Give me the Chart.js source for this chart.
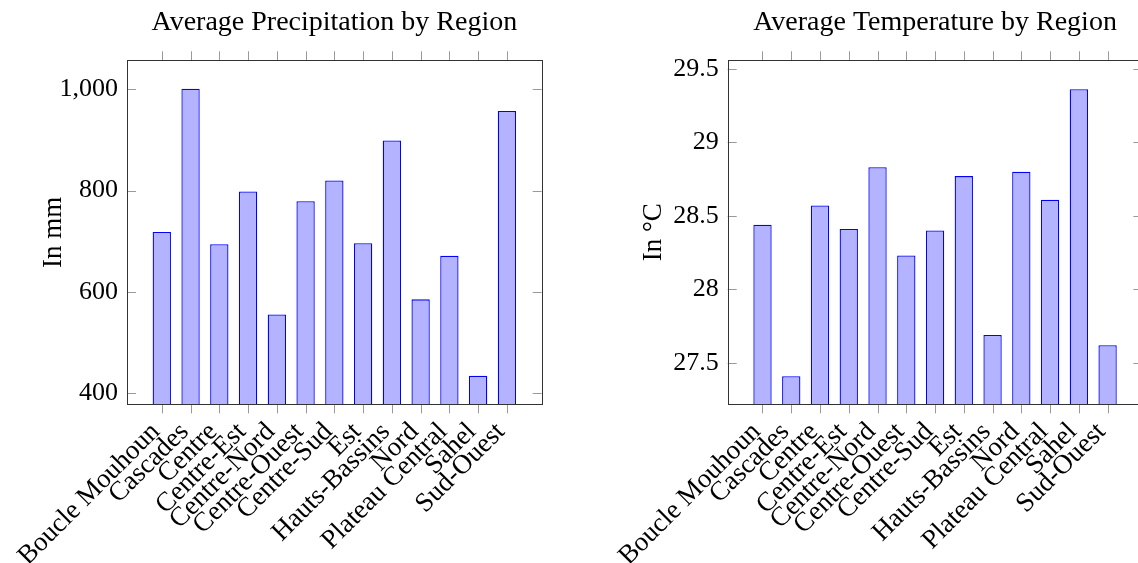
<!DOCTYPE html>
<html lang="en">
<head>
  <meta charset="UTF-8">
  <title>Average Precipitation and Temperature by Region</title>
  <script src="https://cdn.jsdelivr.net/npm/chart.js"></script>
  <style>
    html, body { margin: 0; padding: 0; background: #fff; overflow: hidden; }
    #wrap { position: relative; width: 1138px; height: 563px; overflow: hidden; }
    canvas { position: absolute; top: 0; }
    #precipChart { left: 0; }
    #tempChart { left: 569px; }
  </style>
</head>
<body>
<div id="wrap">
  <canvas id="precipChart" width="569" height="563"></canvas>
  <canvas id="tempChart" width="600" height="563"></canvas>
</div>

<script>
  // values
  const regions = ['Boucle Mouhoun', 'Cascades', 'Centre', 'Centre-Est', 'Centre-Nord', 'Centre-Ouest',
    'Centre-Sud', 'Est', 'Hauts-Bassins', 'Nord', 'Plateau Central', 'Sahel', 'Sud-Ouest'];
  const precipitation = [718, 1001, 694, 798, 555, 779, 820, 696, 899, 585, 671, 434, 957];
  const temperature = [28.44, 27.41, 28.57, 28.41, 28.83, 28.23, 28.40, 28.77, 27.69, 28.80, 28.61, 29.36, 27.62];
  const precipTicks = [400, 600, 800, 1000];
  const tempTicks = [27.5, 28, 28.5, 29, 29.5];

  Chart.defaults.font.family = "'Liberation Serif', serif";
  Chart.defaults.color = '#000';

  // pgfplots-like box with inward y ticks and outward x ticks on top and bottom
  const pgfFrame = {
    id: 'pgfFrame',
    afterDatasetsDraw(chart) {
      const { ctx, chartArea: a, scales: { x, y } } = chart;
      ctx.save();
      ctx.lineWidth = 1;
      ctx.strokeStyle = '#999';
      ctx.beginPath();
      y.ticks.forEach(t => {
        const py = Math.round(y.getPixelForValue(t.value)) + 0.5;
        ctx.moveTo(a.left, py); ctx.lineTo(a.left + 9, py);
        ctx.moveTo(a.right - 9, py); ctx.lineTo(a.right, py);
      });
      x.ticks.forEach(t => {
        const px = Math.round(x.getPixelForValue(t.value)) + 0.5;
        ctx.moveTo(px, a.top - 9); ctx.lineTo(px, a.top);
        ctx.moveTo(px, a.bottom); ctx.lineTo(px, a.bottom + 9);
      });
      ctx.stroke();
      ctx.strokeStyle = '#333';
      ctx.strokeRect(Math.round(a.left) + 0.5, Math.round(a.top) + 0.5,
        Math.round(a.right - a.left), Math.round(a.bottom - a.top));
      ctx.restore();
    }
  };

  function makeChart(id, o) {
    return new Chart(document.getElementById(id), {
      type: 'bar',
      data: {
        datasets: [{
          data: o.values.map((v, i) => ({ x: i, y: v })),
          backgroundColor: 'rgb(179, 179, 255)',
          borderColor: '#0000ff',
          borderWidth: 1.3,
          barPercentage: 0.637,
          categoryPercentage: 1,
          clip: 0
        }]
      },
      options: {
        responsive: false,
        animation: false,
        layout: { padding: { top: 0, right: o.padRight, bottom: 0, left: 0 } },
        plugins: {
          legend: { display: false },
          tooltip: { enabled: false },
          title: {
            display: true,
            text: o.title,
            fullSize: false,
            color: '#000',
            font: { size: 28, weight: 'normal' },
            padding: { top: 5.75, bottom: 20.95 }
          }
        },
        scales: {
          x: {
            type: 'linear',
            offset: false,
            min: -1.21,
            max: 13.21,
            grid: { display: false, drawTicks: false },
            border: { display: false },
            afterBuildTicks: s => { s.ticks = regions.map((r, i) => ({ value: i })); },
            afterFit: s => { s.height = 158.7; },
            ticks: {
              autoSkip: false,
              minRotation: 45,
              maxRotation: 45,
              padding: 12,
              labelOffset: -6,
              font: { size: 27 },
              callback: v => regions[v]
            }
          },
          y: {
            min: o.min,
            max: o.max,
            beginAtZero: false,
            grid: { display: false, drawTicks: false },
            border: { display: false },
            afterBuildTicks: s => { s.ticks = o.ticks.map(v => ({ value: v })); },
            afterFit: s => { s.width = o.yWidth; },
            ticks: { padding: 9, font: { size: 26 }, callback: o.fmt },
            title: {
              display: true,
              text: o.yTitle,
              font: { size: 27 },
              padding: { top: o.titlePad, bottom: 0 }
            }
          }
        }
      },
      plugins: [pgfFrame]
    });
  }

  makeChart('precipChart', {
    values: precipitation,
    ticks: precipTicks,
    title: 'Average Precipitation by Region',
    yTitle: 'In mm',
    min: 377.7, max: 1057.3,
    fmt: v => v.toLocaleString('en-US'),
    yWidth: 127, padRight: 27.3, titlePad: 37.4
  });

  makeChart('tempChart', {
    values: temperature,
    ticks: tempTicks,
    title: 'Average Temperature by Region',
    yTitle: 'In °C',
    min: 27.219, max: 29.557,
    fmt: v => String(v),
    yWidth: 158.7, padRight: 26.6, titlePad: 69
  });
</script>
</body>
</html>
